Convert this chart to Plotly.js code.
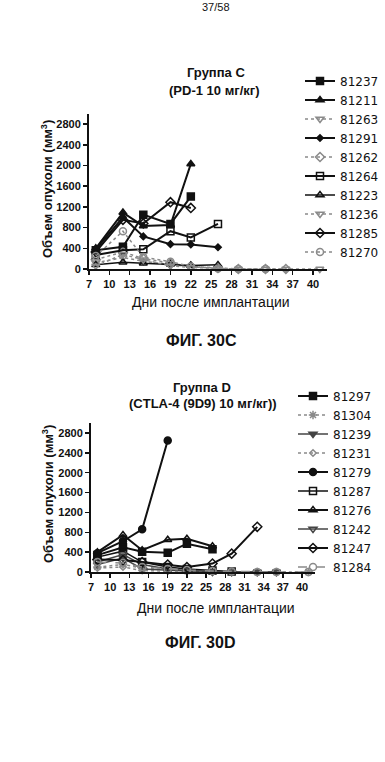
<!DOCTYPE html>
<html><head><meta charset="utf-8">
<script src="https://cdn.plot.ly/plotly-3.0.1.min.js"></script>
<style>html,body{margin:0;padding:0;background:#fff}#chart{width:385px;height:762px}</style>
</head><body><div id="chart"></div>
<script>
// ---- shared axis values ----
const days = [8, 12, 15, 19, 22, 26, 29, 33, 36, 41];
const xTicks = [7, 10, 13, 16, 19, 22, 25, 28, 31, 34, 37, 40];
const yTicks = [0, 400, 800, 1200, 1600, 2000, 2400, 2800];

// ---- Group C (PD-1 10 mg/kg) ----
const namesC = ['81237', '81211', '81263', '81291', '81262', '81264', '81223', '81236', '81285', '81270'];
const c81237 = [360, 430, 1050, 870, 1400];
const c81211 = [400, 1090, 830, 850, 2030];
const c81263 = [120, 220, 150, 80, 40, 20];
const c81291 = [380, 1000, 630, 480, 475, 420];
const c81262 = [180, 330, 200, 110, 50, 20, 0, 0, 0];
const c81264 = [270, 360, 380, 730, 610, 870];
const c81223 = [80, 130, 110, 90, 70, 80];
const c81236 = [60, 280, 180, 60, 30, 10, 0, 0, 0, 0];
const c81285 = [330, 950, 880, 1290, 1180];
const c81270 = [250, 730, 230, 140, 50, 10, 0, 0];
const valuesC = [c81237, c81211, c81263, c81291, c81262, c81264, c81223, c81236, c81285, c81270];

// ---- Group D (CTLA-4 (9D9) 10 mg/kg) ----
const namesD = ['81297', '81304', '81239', '81231', '81279', '81287', '81276', '81242', '81247', '81284'];
const d81297 = [340, 500, 410, 390, 570, 460];
const d81304 = [100, 150, 80, 40, 20, 10, 0, 0, 0, 0];
const d81239 = [150, 280, 60, 30, 20, 0, 0, 0, 0];
const d81231 = [80, 100, 30, 20, 10, 0];
const d81279 = [380, 620, 860, 2650];
const d81287 = [300, 420, 200, 100, 60, 30, 10];
const d81276 = [400, 745, 440, 650, 670, 520];
const d81242 = [200, 350, 150, 60, 30, 10, 0, 0, 0];
const d81247 = [250, 240, 200, 150, 100, 170, 370, 910];
const d81284 = [200, 180, 100, 60, 40, 20, 10, 0, 0, 0];
const valuesD = [d81297, d81304, d81239, d81231, d81279, d81287, d81276, d81242, d81247, d81284];

// ---- styles ----
const BLK = '#111111', GRY = '#8a8a8a', DGR = '#444444';
const styleC = [
  {sym: 'square', col: BLK, dash: 'solid', w: 2, sz: 7},
  {sym: 'triangle-up', col: BLK, dash: 'solid', w: 2, sz: 7},
  {sym: 'triangle-down-open', col: GRY, dash: 'dot', w: 1.5, sz: 7},
  {sym: 'diamond', col: BLK, dash: 'solid', w: 2, sz: 5},
  {sym: 'diamond-open', col: GRY, dash: 'dot', w: 1.5, sz: 7},
  {sym: 'square-open', col: BLK, dash: 'solid', w: 2, sz: 7},
  {sym: 'triangle-up-open', col: BLK, dash: 'solid', w: 1.5, sz: 7},
  {sym: 'triangle-down-open', col: GRY, dash: 'dot', w: 1.5, sz: 7},
  {sym: 'diamond-open', col: BLK, dash: 'solid', w: 2, sz: 7},
  {sym: 'circle-open', col: GRY, dash: 'dot', w: 1.5, sz: 7}
];
const styleD = [
  {sym: 'square', col: BLK, dash: 'solid', w: 2, sz: 7},
  {sym: 'asterisk-open', col: GRY, dash: 'dot', w: 1.5, sz: 7},
  {sym: 'triangle-down', col: DGR, dash: 'solid', w: 1.5, sz: 7},
  {sym: 'diamond-open', col: GRY, dash: 'dot', w: 1.5, sz: 5},
  {sym: 'circle', col: BLK, dash: 'solid', w: 2, sz: 7},
  {sym: 'square-open', col: BLK, dash: 'solid', w: 1.5, sz: 7},
  {sym: 'triangle-up-open', col: BLK, dash: 'solid', w: 2, sz: 7},
  {sym: 'triangle-down-open', col: DGR, dash: 'solid', w: 1.5, sz: 7},
  {sym: 'diamond-open', col: BLK, dash: 'solid', w: 2, sz: 7},
  {sym: 'circle-open', col: GRY, dash: 'dash', w: 1.5, sz: 7}
];

function makeTraces(names, values, styles, xa, ya, leg) {
  return names.map((n, i) => ({
    type: 'scatter', mode: 'lines+markers', name: n,
    x: days.slice(0, values[i].length), y: values[i],
    xaxis: xa, yaxis: ya, legend: leg, cliponaxis: false,
    line: {color: styles[i].col, width: styles[i].w, dash: styles[i].dash},
    marker: {symbol: styles[i].sym, size: styles[i].sz, color: styles[i].col,
             line: {color: styles[i].col, width: 1.5}}
  }));
}

const data = makeTraces(namesC, valuesC, styleC, 'x', 'y', 'legend')
  .concat(makeTraces(namesD, valuesD, styleD, 'x2', 'y2', 'legend2'));

const W = 385, H = 762;
const px = v => v / W, py = v => 1 - v / H;
const tickFont = {family: 'Liberation Sans, Arial, sans-serif', size: 11, color: '#111', weight: 'bold'};

function xAxis(d0, d1, anchor) {
  return {domain: [px(d0), px(d1)], anchor: anchor, range: [7, 42], tickvals: xTicks,
          ticks: 'outside', ticklen: 4, tickwidth: 1.5, tickcolor: '#111',
          showline: true, linewidth: 2, linecolor: '#111', showgrid: false, zeroline: false,
          tickfont: tickFont, fixedrange: true};
}
function yAxis(top, bottom, anchor) {
  return {domain: [py(bottom), py(top)], anchor: anchor, range: [0, 3000], tickvals: yTicks,
          ticks: 'outside', ticklen: 4, tickwidth: 1.5, tickcolor: '#111',
          showline: true, linewidth: 2, linecolor: '#111', showgrid: false, zeroline: false,
          tickfont: tickFont, fixedrange: true};
}

const ann = (t, x, y, size, bold, extra) => Object.assign({
  text: t, x: px(x), y: py(y), xref: 'paper', yref: 'paper', showarrow: false,
  xanchor: 'center', yanchor: 'middle',
  font: {family: 'Liberation Sans, Arial, sans-serif', size: size, color: '#111', weight: bold ? 'bold' : 'normal'}
}, extra || {});

const layout = {
  width: W, height: H, margin: {l: 0, r: 0, t: 0, b: 0},
  paper_bgcolor: '#fff', plot_bgcolor: 'rgba(0,0,0,0)', showlegend: true,
  xaxis: xAxis(89, 326.6, 'y'),
  yaxis: yAxis(113.7, 269, 'x'),
  xaxis2: xAxis(91, 314.8, 'y2'),
  yaxis2: yAxis(423.1, 572, 'x2'),
  legend: {x: px(300), xanchor: 'left', y: py(166.5), yanchor: 'middle', bgcolor: 'rgba(0,0,0,0)',
           font: {family: 'DejaVu Sans, sans-serif', size: 12, color: '#111'}, tracegroupgap: 0, itemwidth: 30},
  legend2: {x: px(293), xanchor: 'left', y: py(481.5), yanchor: 'middle', bgcolor: 'rgba(0,0,0,0)',
           font: {family: 'DejaVu Sans, sans-serif', size: 12, color: '#111'}, tracegroupgap: 0, itemwidth: 30},
  annotations: [
    ann('37/58', 216, 7, 11, false),
    ann('Группа C', 216, 72, 13, true),
    ann('(PD-1 10 мг/кг)', 214, 90, 13, true),
    ann('Объем опухоли (мм<sup>3</sup>)', 47, 189, 13, true, {textangle: -90}),
    ann('Дни после имплантации', 211, 302, 14, false),
    ann('ФИГ. 30C', 202, 340, 16, true),
    ann('Группа D', 202, 387, 13, true),
    ann('(CTLA-4 (9D9) 10 мг/кг))', 203, 403, 13, true),
    ann('Объем опухоли (мм<sup>3</sup>)', 48, 494, 13, true, {textangle: -90}),
    ann('Дни после имплантации', 216, 608, 14, false),
    ann('ФИГ. 30D', 200, 642, 16, true)
  ]
};

Plotly.newPlot('chart', data, layout, {staticPlot: true, displayModeBar: false});
</script>
</body></html>
